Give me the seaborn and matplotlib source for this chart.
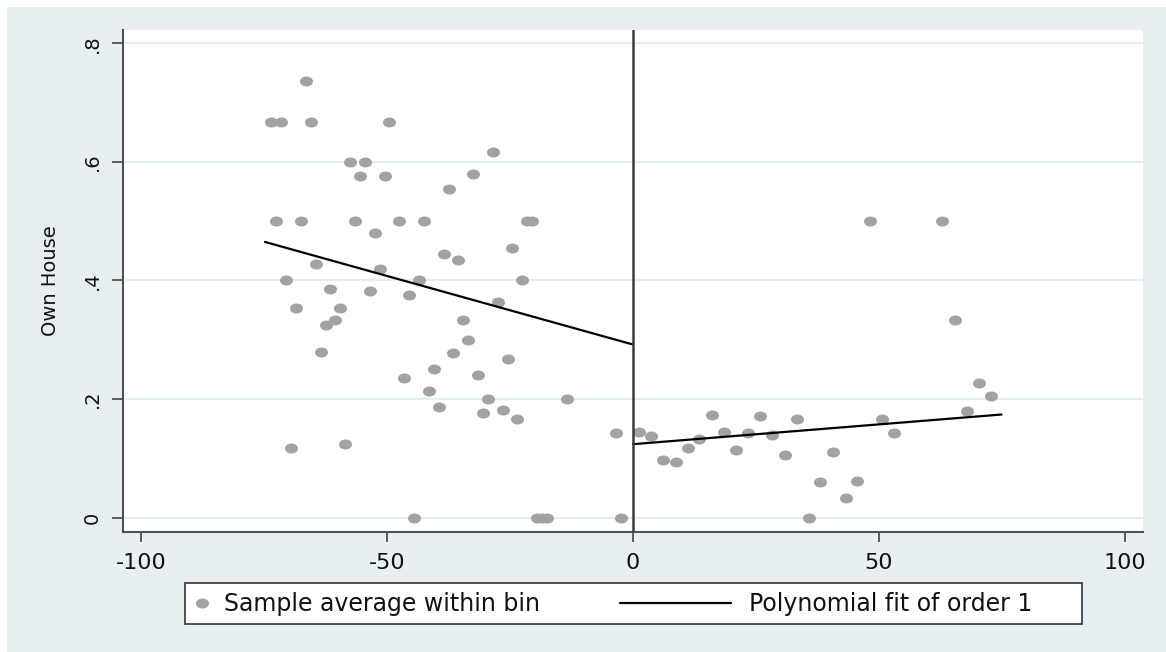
import numpy as np
import pandas as pd
import matplotlib
matplotlib.use("Agg")
import matplotlib.pyplot as plt
from matplotlib.path import Path
from matplotlib.lines import Line2D
from matplotlib.patches import Rectangle
import seaborn as sns

# ---- data ----
left_x = [-73.5, -72.5, -71.5, -70.5, -69.5, -68.5, -67.5, -66.5, -65.5, -64.5,
          -63.5, -62.5, -61.5, -60.5, -59.5, -58.5, -57.5, -56.5, -55.5, -54.5,
          -53.5, -52.5, -51.5, -50.5, -49.5, -47.5, -46.5, -45.5, -44.5, -43.5,
          -42.5, -41.5, -40.5, -39.5, -38.5, -37.5, -36.5, -35.5, -34.5, -33.5,
          -32.5, -31.5, -30.5, -29.5, -28.5, -27.5, -26.5, -25.5, -24.5, -23.5,
          -22.5, -21.5, -20.5, -19.5, -18.5, -17.5, -13.5, -3.5, -2.5]
left_y = [0.667, 0.500, 0.667, 0.400, 0.118, 0.353, 0.500, 0.737, 0.667, 0.428,
          0.280, 0.325, 0.385, 0.333, 0.353, 0.125, 0.600, 0.500, 0.577, 0.600,
          0.383, 0.480, 0.420, 0.577, 0.667, 0.500, 0.235, 0.375, 0.000, 0.400,
          0.500, 0.214, 0.250, 0.187, 0.444, 0.555, 0.278, 0.435, 0.333, 0.300,
          0.580, 0.240, 0.177, 0.200, 0.617, 0.364, 0.182, 0.267, 0.455, 0.167,
          0.400, 0.500, 0.500, 0.000, 0.000, 0.000, 0.200, 0.143, 0.000]
right_x = [1.3, 3.7, 6.1, 8.7, 11.1, 13.5, 16.1, 18.5, 20.9, 23.4, 25.9, 28.3,
           30.8, 33.3, 35.7, 38.1, 40.7, 43.2, 45.5, 48.1, 50.6, 53.0, 62.8,
           65.4, 67.8, 70.3, 72.8]
right_y = [0.145, 0.138, 0.098, 0.094, 0.118, 0.132, 0.173, 0.145, 0.114, 0.143,
           0.171, 0.139, 0.105, 0.166, 0.000, 0.060, 0.110, 0.034, 0.062, 0.500,
           0.166, 0.142, 0.500, 0.333, 0.180, 0.227, 0.205]
fit_left_x = [-74.8, 0.0]
fit_left_y = [0.465, 0.292]
fit_right_x = [0.0, 74.9]
fit_right_y = [0.124, 0.174]

x_ticks = [-100, -50, 0, 50, 100]
x_tick_labels = ["-100", "-50", "0", "50", "100"]
y_ticks = [0, 0.2, 0.4, 0.6, 0.8]
y_tick_labels = ["0", ".2", ".4", ".6", ".8"]
y_label = "Own House"
legend_labels = ["Sample average within bin", "Polynomial fit of order 1"]

# ---- style ----
sns.set_style("white")
plt.rcParams["font.family"] = ["DejaVu Sans"]
plt.rcParams["axes.unicode_minus"] = False

W, H = 1166, 652
BG = "#e8eff2"
GRID = "#e4edf0"
DOT = "#a2a2a2"

fig = plt.figure(figsize=(W / 100, H / 100), dpi=100, facecolor="white")
fig.add_artist(Rectangle((7 / W, 0), 1 - 7 / W, 1 - 7 / H, transform=fig.transFigure,
                         facecolor=BG, edgecolor="none", zorder=-10))

ax = fig.add_axes([123 / W, 1 - 532 / H, (1143 - 123) / W, (532 - 30) / H])
ax.set_facecolor("white")

df = pd.DataFrame({"x": left_x + right_x, "y": left_y + right_y})

# elliptical dot (the reference is horizontally stretched)
circ = Path.unit_circle()
ell = Path(circ.vertices * np.array([1.3, 1.0]), circ.codes)

sns.scatterplot(data=df, x="x", y="y", ax=ax, marker=ell, s=88, color=DOT,
                linewidth=0, zorder=3, legend=False)
sns.lineplot(x=fit_left_x, y=fit_left_y, ax=ax, color="black", lw=1.6, zorder=4)
sns.lineplot(x=fit_right_x, y=fit_right_y, ax=ax, color="black", lw=1.6, zorder=4)
ax.axvline(0, color="#3a3a3a", lw=1.8, zorder=5)

ax.set_xlim(-103.66, 103.66)
ax.set_ylim(-0.0241, 0.8224)
ax.set_xticks(x_ticks, x_tick_labels, fontsize=16, color="#111111")
ax.set_yticks(y_ticks, y_tick_labels, fontsize=14, color="#111111",
              rotation=90, va="center")
ax.tick_params(axis="x", direction="out", length=7, width=1.3, color="#505050", pad=8,
               bottom=True)
ax.tick_params(axis="y", direction="out", length=8, width=1.3, color="#505050", pad=7,
               left=True)
ax.grid(axis="y", color=GRID, lw=1.6, zorder=0)
ax.grid(axis="x", visible=False)
ax.set_axisbelow(True)
for s in ["top", "right"]:
    ax.spines[s].set_visible(False)
for s in ["left", "bottom"]:
    ax.spines[s].set_color("#505050")
    ax.spines[s].set_linewidth(1.5)
ax.set_xlabel("")
ax.set_ylabel(y_label, fontsize=14, color="#111111")
ax.yaxis.set_label_coords((60 - 123) / 1020, 0.5)

# ---- legend ----
fig.add_artist(Rectangle((185 / W, 1 - 624 / H), (1082 - 185) / W, 41 / H,
                         transform=fig.transFigure, facecolor="white",
                         edgecolor="#333333", lw=1.2, zorder=1))
fs = 17
fpx = fs * 100 / 72
h_dot = Line2D([], [], ls="", marker=ell, markersize=9.4, color=DOT, markeredgewidth=0)
h_line = Line2D([], [], color="black", lw=1.6)
ly = 1 - 604 / H
leg1 = fig.legend([h_dot], [legend_labels[0]], loc="center left",
                  bbox_to_anchor=((202 - 0.5 * fpx) / W, ly), frameon=False,
                  fontsize=fs, handlelength=1.0, handletextpad=0.45,
                  borderpad=0, borderaxespad=0)
leg2 = fig.legend([h_line], [legend_labels[1]], loc="center left",
                  bbox_to_anchor=(620 / W, ly), frameon=False,
                  fontsize=fs, handlelength=111 / fpx, handletextpad=0.75,
                  borderpad=0, borderaxespad=0)
for leg in (leg1, leg2):
    leg.set_zorder(2)
    for t in leg.get_texts():
        t.set_color("#111111")

fig.savefig("out.png", dpi=100, facecolor="white")
